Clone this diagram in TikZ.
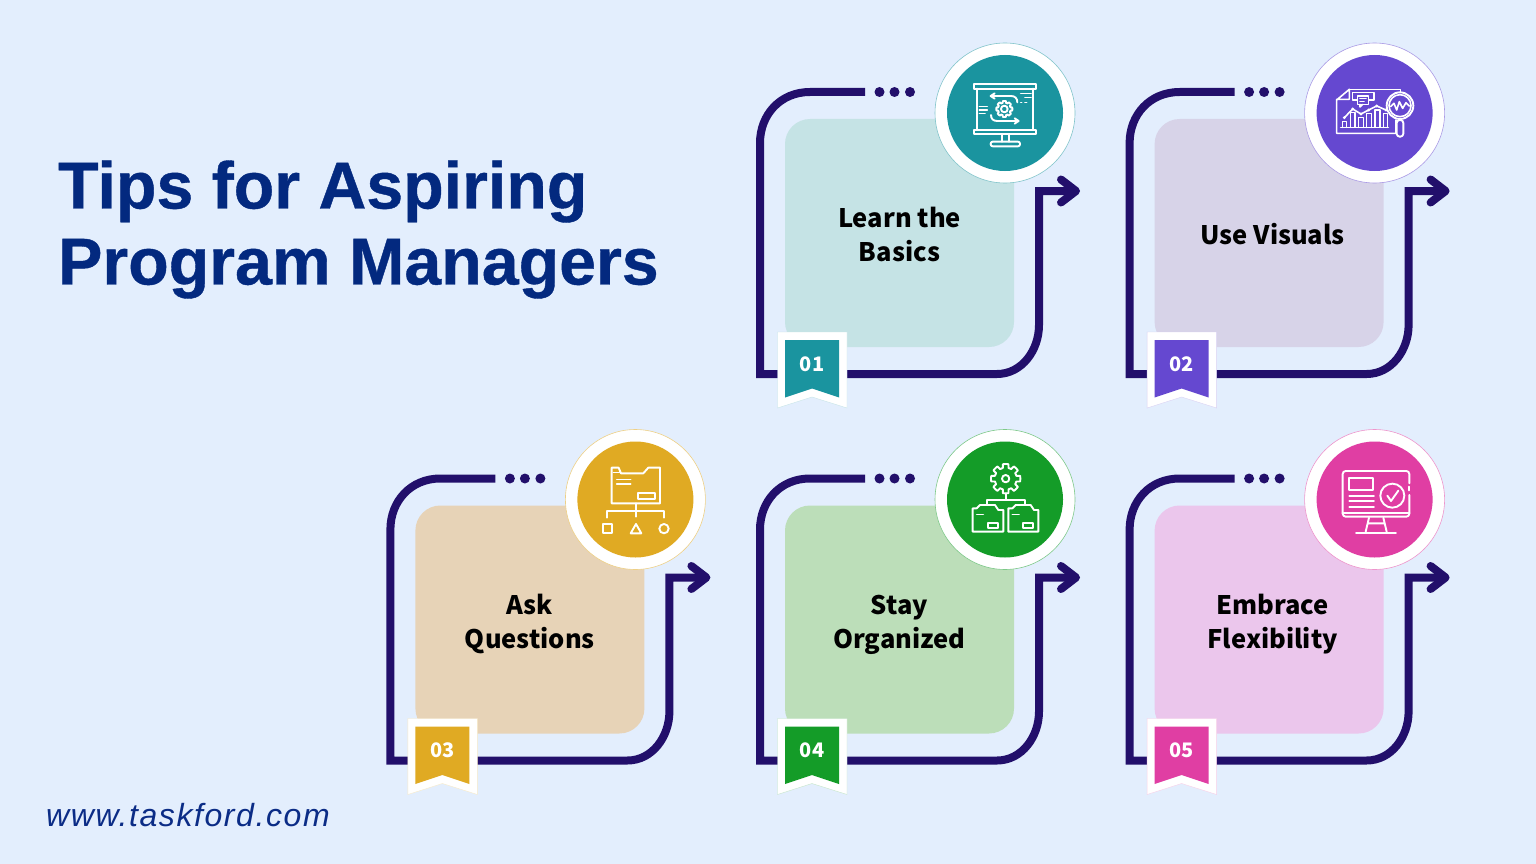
\documentclass[tikz,border=0pt]{standalone}
\usepackage{fontspec}
\setmainfont{Liberation Sans}
\newfontfamily\titlefont[FakeBold=0.6]{Liberation Sans}
\newfontfamily\labfont{Noto Sans CJK SC}
\newfontfamily\urlfont[LetterSpace=5]{Liberation Sans}
\definecolor{bgc}{HTML}{E3EEFD}
\definecolor{linec}{HTML}{220F6B}
\definecolor{titlec}{HTML}{03297F}
\definecolor{urlc}{HTML}{0B2C86}
\definecolor{ca}{HTML}{1A949F}\definecolor{cardA}{HTML}{C5E3E5}
\definecolor{cb}{HTML}{6548D0}\definecolor{cardB}{HTML}{D7D3E8}
\definecolor{cc}{HTML}{E0AA23}\definecolor{cardC}{HTML}{E7D3B7}
\definecolor{cd}{HTML}{149C28}\definecolor{cardD}{HTML}{BCDEB9}
\definecolor{ce}{HTML}{E03EA3}\definecolor{cardE}{HTML}{EBC6EC}
\tikzset{
  card/.style={rounded corners=25pt,minimum width=229pt,minimum height=228pt,inner sep=0pt},
  route/.style={draw=linec,line width=8pt,line join=miter},
  arrowhead/.style={draw=linec,line width=8pt,line cap=round,line join=round},
  dotmark/.style={circle,fill=linec,minimum size=10pt,inner sep=0pt},
  ring/.style={circle,fill=white,minimum size=140pt,inner sep=0pt,line width=.6pt},
  disc/.style={circle,minimum size=116pt,inner sep=0pt},
  tiletext/.style={font=\labfont\bfseries\fontsize{25.5}{34}\selectfont,align=center,text=black,inner sep=0pt},
  badgetext/.style={font=\labfont\bfseries\fontsize{20}{26}\selectfont,text=white,inner sep=0pt},
  ico/.style={draw=white,line width=1.9pt,line cap=round,line join=round},
  thin ico/.style={draw=white,line width=1.6pt,line cap=round,line join=round},
}
% #1 id, #2 x shift, #3 y shift, #4 accent, #5 card colour, #6 number, #7 text, #8 text x
\newcommand{\tiledraw}[8]{%
  \begin{scope}[shift={(#2,#3)}]
    \node[card,fill=#5] (card#1) at (899.5,233) {};
    \coordinate (s#1) at (865,92);
    \coordinate (e#1) at (1075,191);
    \draw[route] (s#1) -- (810,92) .. controls (780,92) and (760,115) .. (760,143)
      -- (760,374) -- (997,374) .. controls (1022,374) and (1039,350) .. (1039,325)
      -- (1039,191) -- (e#1);
    \draw[arrowhead] (1061,179.5) -- (1076,191) -- (1061,202.5);
    \node[dotmark] (da#1) at (879.5,92) {};
    \node[dotmark] (db#1) at (894.5,92) {};
    \node[dotmark] (dc#1) at (910,92) {};
    \node[ring,draw=#4!55] (ring#1) at (1005,113) {};
    \node[disc,fill=#4] (disc#1) at (1005,113) {};
    \node[tiletext] (text#1) at (#8,238) {#7};
    \filldraw[fill=white,draw=#4!25,line width=.4pt] (777.5,332) -- (847,332) -- (847,408) -- (812,397) -- (777.5,408) -- cycle;
    \fill[#4] (785,340) -- (839,340) -- (839,397.5) -- (812,388.5) -- (785,397.5) -- cycle;
    \node[badgetext] (num#1) at (812,364) {#6};
  \end{scope}}
\newcommand{\zoomscope}[2]{\begin{scope}[shift={(#1,#2)},x=.3333pt,y=-.3333pt]}
% gear outline: #1 cx, #2 cy, #3 tip radius, #4 root radius
\newcommand{\gearplot}[4]{%
  \draw[ico] plot[samples at={0,3.75,...,356.25},variable=\t]
    ({#1+ifthenelse(abs(mod(\t+22.5,45)-22.5)<11.5,#3,#4)*cos(\t)},{#2+ifthenelse(abs(mod(\t+22.5,45)-22.5)<11.5,#3,#4)*sin(\t)}) -- cycle;}
\begin{document}
\begin{tikzpicture}[x=1pt,y=-1pt]
\fill[bgc] (0,0) rectangle (1536,864);
\useasboundingbox (0,0) rectangle (1536,864);

\node[anchor=west,align=left,text=titlec,inner sep=0pt,font=\titlefont\bfseries\fontsize{66.3}{76}\selectfont] (title) at (58,229.5) {Tips for Aspiring\\Program Managers};
\node[anchor=base west,inner sep=0pt,text=urlc,font=\urlfont\itshape\fontsize{32}{36}\selectfont] (url) at (46,826) {www.taskford.com};

\tiledraw{1}{0}{0}{ca}{cardA}{01}{Learn the\strut\\\strut Basics}{899.5}
\tiledraw{2}{369.6}{0}{cb}{cardB}{02}{\strut Use Visuals}{903}
\tiledraw{3}{-369.6}{386.5}{cc}{cardC}{03}{Ask\strut\\\strut Questions}{899.5}
\tiledraw{4}{0}{386.5}{cd}{cardD}{04}{Stay\strut\\\strut Organized}{899.5}
\tiledraw{5}{369.6}{386.5}{ce}{cardE}{05}{Embrace\strut\\\strut Flexibility}{903}

% icon 1: presentation board
\zoomscope{930}{40}
  \draw[ico] (132,132) rectangle (318,146);
  \draw[ico] (132,270) rectangle (318,283);
  \draw[ico] (140,146) -- (140,270) (310,146) -- (310,270);
  \draw[ico] (215,283) -- (215,305) (237,283) -- (237,305);
  \draw[ico,rounded corners=2pt] (182,305) rectangle (270,319);
  \gearplot{223}{207}{24}{19}
  \draw[ico] (223,207) circle[radius=10];
  \draw[ico] (262,187) .. controls (262,175) and (255,168) .. (243,168) -- (184,168);
  \draw[ico] (194,160) -- (182,168) -- (194,176);
  \draw[ico] (183,225) .. controls (183,237) and (190,243) .. (202,243) -- (264,243);
  \draw[ico] (254,235) -- (266,243) -- (254,251);
  \draw[thin ico] (148,200) -- (172,200) (148,210) -- (172,210) (148,220) -- (165,220);
  \draw[thin ico] (272,160) -- (303,160) (285,172) -- (303,172) (272,187) -- (275,187) (285,187) -- (290,187);
\end{scope}

% icon 2: chart and magnifier
\zoomscope{1300}{40}
  \draw[thin ico] (148,148) -- (302,148) -- (302,165);
  \draw[thin ico] (288,240) -- (288,280) -- (110,280) -- (110,180) -- (148,148) -- (148,178) -- (110,178);
  \draw[thin ico] (122,262) -- (265,262);
  \draw[thin ico] (128,262) -- (128,245) -- (140,245) -- (140,262);
  \draw[thin ico] (151,262) -- (151,218) -- (165,218) -- (165,262);
  \draw[thin ico] (176,262) -- (176,232) -- (190,232) -- (190,262);
  \draw[thin ico] (200,262) -- (200,220) -- (215,220) -- (215,262);
  \draw[thin ico] (225,262) -- (225,210) -- (240,210) -- (240,262);
  \draw[thin ico] (250,262) -- (250,220) -- (263,220) -- (263,262);
  \draw[thin ico] (133,233) -- (158,207) -- (183,222) -- (206,210) -- (230,198) -- (258,210);
  \foreach \px/\py in {133/233,158/207,183/222,206/210,230/198,258/210}{\fill[white] (\px,\py) circle[radius=5];}
  \draw[thin ico] (172,180) -- (158,180) -- (158,158) -- (222,158) -- (222,180) -- (206,180);
  \draw[thin ico,fill=cb] (172,168) rectangle (205,193);
  \draw[thin ico] (180,175) -- (198,175) (180,184) -- (192,184);
  \draw[thin ico] (180,193) -- (180,201) -- (188,193);
  \draw[ico,fill=cb] (300,197) circle[radius=40];
  \draw[thin ico] (300,197) circle[radius=33];
  \draw[ico,rounded corners=3pt] (290,240) rectangle (310,290);
  \draw[thin ico] (272,200) -- (282,190) -- (290,210) -- (298,185) -- (308,205) -- (318,188) -- (328,198);
\end{scope}

% icon 3: folder and shapes
\zoomscope{560}{425}
  \draw[ico] (155,235) -- (155,128) -- (176,128) -- (183,145) -- (250,145) -- (265,128) -- (300,128) -- (300,235) -- cycle;
  \draw[thin ico] (178,132) -- (178,142) -- (160,142);
  \draw[thin ico] (170,163) -- (212,163) (170,177) -- (212,177);
  \draw[ico] (235,205) rectangle (285,222);
  \draw[ico] (227,235) -- (227,275) (140,278) -- (140,258) -- (313,258) -- (313,278);
  \draw[ico] (128,296) rectangle (157,325);
  \draw[ico] (228,297) -- (212,325) -- (244,325) -- cycle;
  \draw[ico] (312,311) circle[radius=14];
\end{scope}

% icon 4: gear and folders
\zoomscope{930}{425}
  \gearplot{227}{161}{44}{33}
  \draw[ico] (227,161) circle[radius=11];
  \draw[ico] (227,205) -- (227,225) (170,240) -- (170,225) -- (285,225) -- (285,240);
  \draw[ico] (128,250) -- (140,250) -- (150,240) -- (195,240) -- (205,255) -- (220,255) -- (220,320) -- (128,320) -- cycle;
  \draw[ico] (235,250) -- (247,250) -- (257,240) -- (302,240) -- (312,255) -- (325,255) -- (325,320) -- (235,320) -- cycle;
  \draw[thin ico] (140,268) -- (160,268) (247,268) -- (267,268);
  \draw[ico] (173,293) rectangle (203,310) (280,293) rectangle (310,310);
\end{scope}

% icon 5: monitor with check
\zoomscope{1300}{425}
  \draw[ico,rounded corners=3pt] (328,175) -- (328,138) -- (128,138) -- (128,275) -- (328,275) -- (328,210);
  \draw[ico] (328,185) -- (328,196);
  \draw[ico] (128,263) -- (328,263);
  \draw[ico] (148,158) rectangle (220,195);
  \draw[ico] (148,212) -- (222,212) (148,228) -- (222,228) (148,245) -- (222,245);
  \draw[ico] (277,212) circle[radius=36];
  \draw[ico] (262,212) -- (273,228) -- (295,197);
  \draw[ico] (207,278) -- (197,320) (250,278) -- (260,320) (203,295) -- (254,295);
  \draw[ico] (168,323) -- (288,323);
\end{scope}
\end{tikzpicture}
\end{document}
